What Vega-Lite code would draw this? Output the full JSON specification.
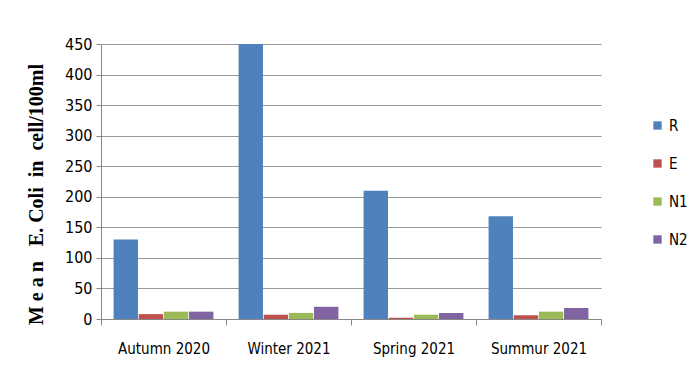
{
  "$schema": "https://vega.github.io/schema/vega-lite/v6.json",
  "width": 500,
  "height": 275,
  "padding": {"left": 26, "top": 36, "right": 5, "bottom": 5},
  "background": "white",
  "config": {
    "view": {"stroke": null},
    "font": "DejaVu Sans Condensed"
  },
  "data": {
    "values": [
      {"season": "Autumn 2020", "site": "R", "value": 130},
      {"season": "Autumn 2020", "site": "E", "value": 8},
      {"season": "Autumn 2020", "site": "N1", "value": 12},
      {"season": "Autumn 2020", "site": "N2", "value": 12},
      {"season": "Winter 2021", "site": "R", "value": 450},
      {"season": "Winter 2021", "site": "E", "value": 7},
      {"season": "Winter 2021", "site": "N1", "value": 10},
      {"season": "Winter 2021", "site": "N2", "value": 20},
      {"season": "Spring 2021", "site": "R", "value": 210},
      {"season": "Spring 2021", "site": "E", "value": 2},
      {"season": "Spring 2021", "site": "N1", "value": 7},
      {"season": "Spring 2021", "site": "N2", "value": 10},
      {"season": "Summur 2021", "site": "R", "value": 168},
      {"season": "Summur 2021", "site": "E", "value": 6},
      {"season": "Summur 2021", "site": "N1", "value": 12},
      {"season": "Summur 2021", "site": "N2", "value": 18}
    ]
  },
  "mark": {"type": "bar", "cornerRadiusTop": 8, "cornerRadiusBottom": 4},
  "encoding": {
    "x": {
      "field": "season",
      "type": "nominal",
      "sort": null,
      "scale": {"paddingInner": 0, "paddingOuter": 0},
      "axis": {
        "title": null,
        "labelAngle": 0,
        "labelFontSize": 15,
        "labelColor": "#000",
        "labelPadding": 16,
        "tickBand": "extent",
        "tickSize": 6,
        "domainColor": "#888",
        "tickColor": "#888"
      }
    },
    "xOffset": {
      "field": "site",
      "sort": ["R", "E", "N1", "N2"],
      "scale": {"paddingInner": 0.03, "paddingOuter": 0.5}
    },
    "y": {
      "field": "value",
      "type": "quantitative",
      "scale": {"domain": [0, 450]},
      "axis": {
        "values": [0, 50, 100, 150, 200, 250, 300, 350, 400, 450],
        "title": "M e a n\u00a0\u00a0 E. Coli\u00a0 in\u00a0 cell/100ml",
        "titleFont": "Liberation Serif",
        "titleFontSize": 20,
        "titleFontWeight": "bold",
        "titleColor": "#000",
        "titlePadding": 18,
        "titleY": 150,
        "labelFontSize": 16,
        "labelColor": "#000",
        "gridColor": "#9a9a9a",
        "domainColor": "#888",
        "tickColor": "#888",
        "tickSize": 5,
        "labelPadding": 4
      }
    },
    "color": {
      "field": "site",
      "type": "nominal",
      "sort": ["R", "E", "N1", "N2"],
      "scale": {"domain": ["R", "E", "N1", "N2"], "range": ["#4F81BD", "#C0504D", "#9BBB59", "#8064A2"]},
      "legend": {
        "title": null,
        "orient": "none",
        "legendX": 549,
        "legendY": 74,
        "symbolType": "square",
        "symbolSize": 70,
        "symbolStrokeWidth": 0,
        "labelFontSize": 15,
        "labelColor": "#000",
        "rowPadding": 22,
        "padding": 0
      }
    }
  }
}
